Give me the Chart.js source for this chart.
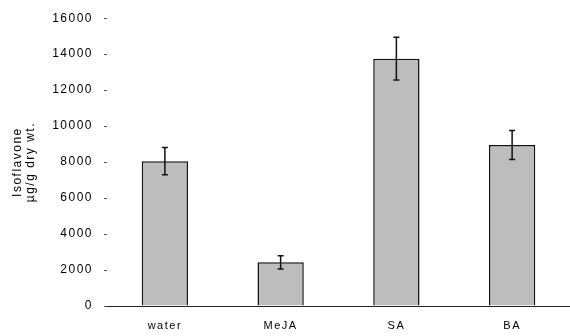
<!DOCTYPE html>
<html>
<head>
<meta charset="utf-8">
<script src="https://cdn.jsdelivr.net/npm/chart.js@4/dist/chart.umd.min.js"></script>
<style>
  html, body { margin: 0; padding: 0; background: #fff; }
  #wrap { width: 570px; height: 336px; }
</style>
</head>
<body>
<div id="wrap"><canvas id="c" width="570" height="336"></canvas></div>
<script>
const categories = ['water', 'MeJA', 'SA', 'BA'];
const means      = [8050, 2430, 13750, 8950];
const errors     = [760, 370, 1190, 800];
const yTicks     = [0, 2000, 4000, 6000, 8000, 10000, 12000, 14000, 16000];

// the scanned lettering is spaced out a bit
const spacing = {
  id: 'spacing',
  beforeLayout(chart) { chart.ctx.letterSpacing = '1.5px'; },
  beforeDraw(chart) { chart.ctx.letterSpacing = '1.5px'; },
};

// error bars drawn through the y scale
const errorBars = {
  id: 'errorBars',
  afterDatasetsDraw(chart) {
    const { ctx, scales: { x, y } } = chart;
    ctx.save();
    ctx.strokeStyle = '#111';
    ctx.lineWidth = 1.5;
    means.forEach((m, i) => {
      const cx = x.getPixelForValue(i);
      const top = y.getPixelForValue(m + errors[i]);
      const bot = y.getPixelForValue(m - errors[i]);
      ctx.beginPath();
      ctx.moveTo(cx, top); ctx.lineTo(cx, bot);
      ctx.moveTo(cx - 3, top); ctx.lineTo(cx + 3, top);
      ctx.moveTo(cx - 3, bot); ctx.lineTo(cx + 3, bot);
      ctx.stroke();
    });
    ctx.restore();
  }
};

const family = 'Liberation Sans, Arial, sans-serif';

new Chart(document.getElementById('c'), {
  type: 'bar',
  data: {
    labels: categories,
    datasets: [{
      data: means,
      backgroundColor: '#bdbdbd',
      borderColor: '#111',
      borderWidth: 1.5,
      barPercentage: 0.8,
      categoryPercentage: 0.5,
    }],
  },
  options: {
    responsive: false,
    animation: false,
    layout: { padding: { top: 16, right: 0, bottom: 0, left: 0 } },
    plugins: { legend: { display: false }, tooltip: { enabled: false } },
    scales: {
      x: {
        grid: { display: false },
        border: { display: true, color: '#222', width: 1 },
        ticks: { color: '#000', font: { family, size: 11 }, padding: 5 },
        afterFit: s => { s.height = 30; },
      },
      y: {
        min: 0,
        max: 16000,
        afterBuildTicks: s => { s.ticks = yTicks.map(v => ({ value: v })); },
        grid: { drawOnChartArea: false, tickLength: 3, color: '#555' },
        border: { display: false },
        ticks: { color: '#000', font: { family, size: 12 }, padding: 11, callback: v => String(v) },
        title: {
          display: true,
          text: ['Isoflavone', 'µg/g dry wt.'],
          color: '#000',
          font: { family, size: 12, lineHeight: 1.1 },
          padding: { top: 11, bottom: 0 },
        },
        afterFit: s => { s.width = 107; },
      },
    },
  },
  plugins: [spacing, errorBars],
});
</script>
</body>
</html>
